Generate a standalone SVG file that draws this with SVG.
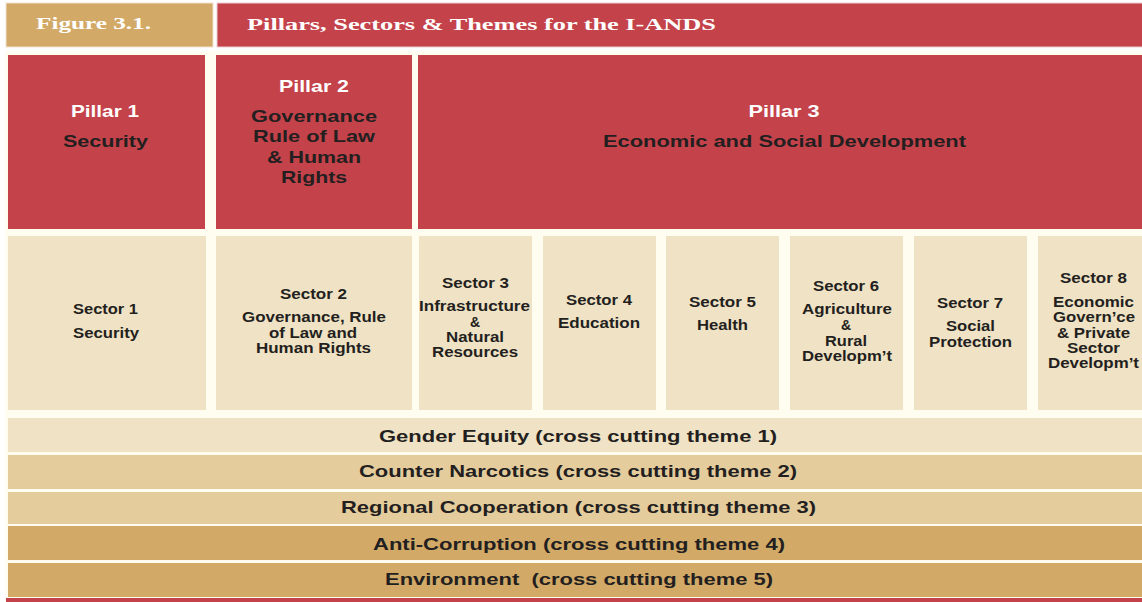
<svg xmlns="http://www.w3.org/2000/svg" width="1142" height="602" viewBox="0 0 1142 602">
<style>
.red{fill:#C4434A}
.tan{fill:#D2A966}
.sec{fill:#F0E2C4}
.mid{fill:#E5CC9D}
.hd{font-family:"Liberation Serif","Times New Roman",serif;font-weight:bold;font-size:17px;fill:#FFFFFF}
.pw{font-family:"Liberation Sans",Arial,sans-serif;font-weight:bold;font-size:17px;fill:#FFFFFF;text-anchor:middle}
.pd{font-family:"Liberation Sans",Arial,sans-serif;font-weight:bold;font-size:17px;fill:#231F20;text-anchor:middle}
.st{font-family:"Liberation Sans",Arial,sans-serif;font-weight:bold;font-size:14px;fill:#231F20;text-anchor:middle}
.th{font-family:"Liberation Sans",Arial,sans-serif;font-weight:bold;font-size:17px;fill:#231F20;text-anchor:middle}
</style>
<rect x="0" y="0" width="1142" height="602" fill="#FFFFFF"/>
<rect x="5" y="51" width="1137" height="551" fill="#FFFDF0"/>
<g id="header">
<rect class="tan" x="6" y="3" width="207" height="44" stroke="#EFE3CF" stroke-width="1"/>
<text class="hd" x="36" y="29" textLength="115" lengthAdjust="spacingAndGlyphs">Figure 3.1.</text>
<rect class="red" x="217" y="3" width="926" height="44" stroke="#EBCFCF" stroke-width="1"/>
<text class="hd" x="247" y="30" textLength="469" lengthAdjust="spacingAndGlyphs">Pillars, Sectors &amp; Themes for the I-ANDS</text>
</g>
<g id="pillar1">
<rect class="red" x="8" y="55" width="197" height="174"/>
<text class="pw" x="105" y="117" textLength="68" lengthAdjust="spacingAndGlyphs">Pillar 1</text>
<text class="pd" x="105.5" y="147" textLength="85" lengthAdjust="spacingAndGlyphs">Security</text>
</g>
<g id="pillar2">
<rect class="red" x="216" y="55" width="196" height="174"/>
<text class="pw" x="314" y="92" textLength="70" lengthAdjust="spacingAndGlyphs">Pillar 2</text>
<text class="pd" x="314" y="122" textLength="126" lengthAdjust="spacingAndGlyphs">Governance</text>
<text class="pd" x="314" y="142" textLength="122" lengthAdjust="spacingAndGlyphs">Rule of Law</text>
<text class="pd" x="314" y="163" textLength="94" lengthAdjust="spacingAndGlyphs">&amp; Human</text>
<text class="pd" x="314" y="183" textLength="66" lengthAdjust="spacingAndGlyphs">Rights</text>
</g>
<g id="pillar3">
<rect class="red" x="418" y="55" width="724" height="174"/>
<text class="pw" x="784" y="117" textLength="71" lengthAdjust="spacingAndGlyphs">Pillar 3</text>
<text class="pd" x="784.5" y="147" textLength="363" lengthAdjust="spacingAndGlyphs">Economic and Social Development</text>
</g>
<g id="sector1">
<rect class="sec" x="8" y="236" width="198" height="174"/>
<text class="st" x="105.5" y="314" textLength="65" lengthAdjust="spacingAndGlyphs">Sector 1</text>
<text class="st" x="106" y="338" textLength="66" lengthAdjust="spacingAndGlyphs">Security</text>
</g>
<g id="sector2">
<rect class="sec" x="216" y="236" width="196" height="174"/>
<text class="st" x="313.5" y="299" textLength="67" lengthAdjust="spacingAndGlyphs">Sector 2</text>
<text class="st" x="314" y="322" textLength="144" lengthAdjust="spacingAndGlyphs">Governance, Rule</text>
<text class="st" x="313" y="338" textLength="88" lengthAdjust="spacingAndGlyphs">of Law and</text>
<text class="st" x="313.5" y="353" textLength="115" lengthAdjust="spacingAndGlyphs">Human Rights</text>
</g>
<g id="sector3">
<rect class="sec" x="419" y="236" width="113" height="174"/>
<text class="st" x="475.5" y="288" textLength="67" lengthAdjust="spacingAndGlyphs">Sector 3</text>
<text class="st" x="474.5" y="311" textLength="111" lengthAdjust="spacingAndGlyphs">Infrastructure</text>
<text class="st" x="475" y="327">&amp;</text>
<text class="st" x="475" y="342" textLength="58" lengthAdjust="spacingAndGlyphs">Natural</text>
<text class="st" x="475" y="357" textLength="86" lengthAdjust="spacingAndGlyphs">Resources</text>
</g>
<g id="sector4">
<rect class="sec" x="543" y="236" width="113" height="174"/>
<text class="st" x="599" y="305" textLength="66" lengthAdjust="spacingAndGlyphs">Sector 4</text>
<text class="st" x="599" y="328" textLength="82" lengthAdjust="spacingAndGlyphs">Education</text>
</g>
<g id="sector5">
<rect class="sec" x="666" y="236" width="113" height="174"/>
<text class="st" x="722.5" y="307" textLength="67" lengthAdjust="spacingAndGlyphs">Sector 5</text>
<text class="st" x="722.5" y="330" textLength="51" lengthAdjust="spacingAndGlyphs">Health</text>
</g>
<g id="sector6">
<rect class="sec" x="790" y="236" width="113" height="174"/>
<text class="st" x="846" y="291" textLength="66" lengthAdjust="spacingAndGlyphs">Sector 6</text>
<text class="st" x="847" y="314" textLength="90" lengthAdjust="spacingAndGlyphs">Agriculture</text>
<text class="st" x="846" y="330">&amp;</text>
<text class="st" x="846" y="346" textLength="42" lengthAdjust="spacingAndGlyphs">Rural</text>
<text class="st" x="847" y="361" textLength="90" lengthAdjust="spacingAndGlyphs">Developm’t</text>
</g>
<g id="sector7">
<rect class="sec" x="914" y="236" width="113" height="174"/>
<text class="st" x="970" y="308" textLength="66" lengthAdjust="spacingAndGlyphs">Sector 7</text>
<text class="st" x="970.5" y="331" textLength="49" lengthAdjust="spacingAndGlyphs">Social</text>
<text class="st" x="970.5" y="347" textLength="83" lengthAdjust="spacingAndGlyphs">Protection</text>
</g>
<g id="sector8">
<rect class="sec" x="1038" y="236" width="104" height="174"/>
<text class="st" x="1093.5" y="283" textLength="67" lengthAdjust="spacingAndGlyphs">Sector 8</text>
<text class="st" x="1093.5" y="307" textLength="81" lengthAdjust="spacingAndGlyphs">Economic</text>
<text class="st" x="1094" y="322" textLength="82" lengthAdjust="spacingAndGlyphs">Govern’ce</text>
<text class="st" x="1093.5" y="338" textLength="73" lengthAdjust="spacingAndGlyphs">&amp; Private</text>
<text class="st" x="1093.5" y="353" textLength="53" lengthAdjust="spacingAndGlyphs">Sector</text>
<text class="st" x="1093.5" y="368" textLength="91" lengthAdjust="spacingAndGlyphs">Developm’t</text>
</g>
<g id="theme1">
<rect class="sec" x="8" y="418" width="1134" height="34"/>
<text class="th" x="578" y="442" textLength="398" lengthAdjust="spacingAndGlyphs">Gender Equity (cross cutting theme 1)</text>
</g>
<g id="theme2">
<rect class="mid" x="8" y="455" width="1134" height="34"/>
<text class="th" x="578" y="477" textLength="438" lengthAdjust="spacingAndGlyphs">Counter Narcotics (cross cutting theme 2)</text>
</g>
<g id="theme3">
<rect class="mid" x="8" y="492" width="1134" height="32"/>
<text class="th" x="578.5" y="513" textLength="475" lengthAdjust="spacingAndGlyphs">Regional Cooperation (cross cutting theme 3)</text>
</g>
<g id="theme4">
<rect class="tan" x="8" y="526" width="1134" height="34"/>
<text class="th" x="579" y="550" textLength="412" lengthAdjust="spacingAndGlyphs">Anti-Corruption (cross cutting theme 4)</text>
</g>
<g id="theme5">
<rect class="tan" x="8" y="563" width="1134" height="34"/>
<text class="th" x="579" y="585" textLength="388" lengthAdjust="spacingAndGlyphs" xml:space="preserve">Environment  (cross cutting theme 5)</text>
</g>
<g id="connectors"></g>
<rect class="red" x="6" y="598" width="1136" height="4"/>
</svg>
